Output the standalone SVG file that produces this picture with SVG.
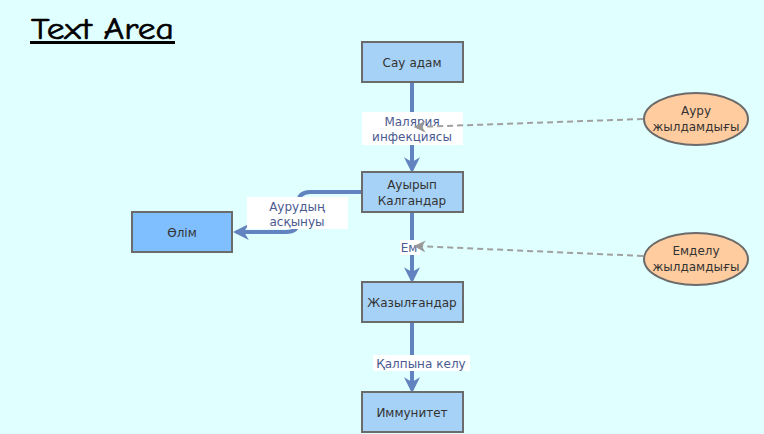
<svg xmlns="http://www.w3.org/2000/svg" width="764" height="434" viewBox="0 0 764 434">
<defs>
<style>
text{font-family:"Comic Sans MS","Comic Neue","DejaVu Sans",sans-serif;}
.box{fill:#a6d2f7;stroke:#6b6b6b;stroke-width:2;}
.ell{fill:#ffcc9f;stroke:#6b6b6b;stroke-width:2;}
.lbl{font-size:12px;fill:#333;text-anchor:middle;}
.elbl{font-size:12px;fill:#4a5a90;text-anchor:middle;}
.flow{fill:none;stroke:#6283bf;stroke-width:4;}
.dash{fill:none;stroke:#a0a0a0;stroke-width:2;stroke-dasharray:6,4;}
.lbg{fill:#ffffff;}
</style>
<marker id="ah" viewBox="0 0 10 10" refX="8" refY="5" markerWidth="4" markerHeight="4" orient="auto" markerUnits="strokeWidth">
<path d="M0,0 L10,5 L0,10 L3,5 Z" fill="#6283bf"/>
</marker>
<marker id="ahg" viewBox="0 0 10 10" refX="8" refY="5" markerWidth="6" markerHeight="6" orient="auto" markerUnits="strokeWidth">
<path d="M0,0 L10,5 L0,10 L3,5 Z" fill="#999"/>
</marker>
</defs>
<rect width="764" height="434" fill="#e0ffff"/>
<g id="title">
<text x="31" y="39" font-size="30" fill="#000" stroke="#000" stroke-width="0.6" textLength="143" lengthAdjust="spacingAndGlyphs">Text Area</text>
<rect x="30" y="41" width="145" height="3" fill="#000"/>
</g>
<g id="connectors">
<path class="flow" d="M412,82 V170" marker-end="url(#ah)"/>
<path class="flow" d="M362,192 H310 Q298,192 298,204 V222 Q298,232 286,232 H236" marker-end="url(#ah)"/>
<path class="flow" d="M412,212 V280" marker-end="url(#ah)"/>
<path class="flow" d="M412,322 V390" marker-end="url(#ah)"/>
<rect class="lbg" x="362" y="112" width="101" height="33"/>
<text class="elbl" x="412" y="126">Малярия</text>
<text class="elbl" x="412" y="141">инфекциясы</text>
<rect class="lbg" x="247" y="197" width="101" height="32"/>
<text class="elbl" x="297" y="211">Аурудың</text>
<text class="elbl" x="297" y="226">асқынуы</text>
<rect class="lbg" x="400" y="240" width="20" height="15"/>
<text class="elbl" x="409" y="252">Ем</text>
<rect class="lbg" x="373" y="355" width="97" height="16"/>
<text class="elbl" x="421" y="368">Қалпына келу</text>
<path class="dash" d="M643,119 L416,127" marker-end="url(#ahg)"/>
<path class="dash" d="M643,256 L416,246" marker-end="url(#ahg)"/>
</g>
<g id="sau"><rect class="box" x="362" y="42" width="101" height="40"/><text class="lbl" x="412" y="67">Сау адам</text></g>
<g id="auyryp"><rect class="box" x="362" y="172" width="101" height="40"/><text class="lbl" x="412" y="189">Ауырып</text><text class="lbl" x="412" y="205">Калгандар</text></g>
<g id="zhazyl"><rect class="box" x="362" y="282" width="101" height="40"/><text class="lbl" x="412" y="307">Жазылғандар</text></g>
<g id="immun"><rect class="box" x="362" y="392" width="101" height="40"/><text class="lbl" x="412" y="417">Иммунитет</text></g>
<g id="olim"><rect class="box" x="132" y="212" width="100" height="40" style="fill:#80bfff"/><text class="lbl" x="182" y="237">Өлім</text></g>
<g id="auru"><ellipse class="ell" cx="696" cy="119" rx="52" ry="26"/><text class="lbl" x="696" y="115">Ауру</text><text class="lbl" x="696" y="131">жылдамдығы</text></g>
<g id="emdelu"><ellipse class="ell" cx="696" cy="259" rx="52" ry="26"/><text class="lbl" x="696" y="255">Емделу</text><text class="lbl" x="696" y="271">жылдамдығы</text></g>
</svg>
